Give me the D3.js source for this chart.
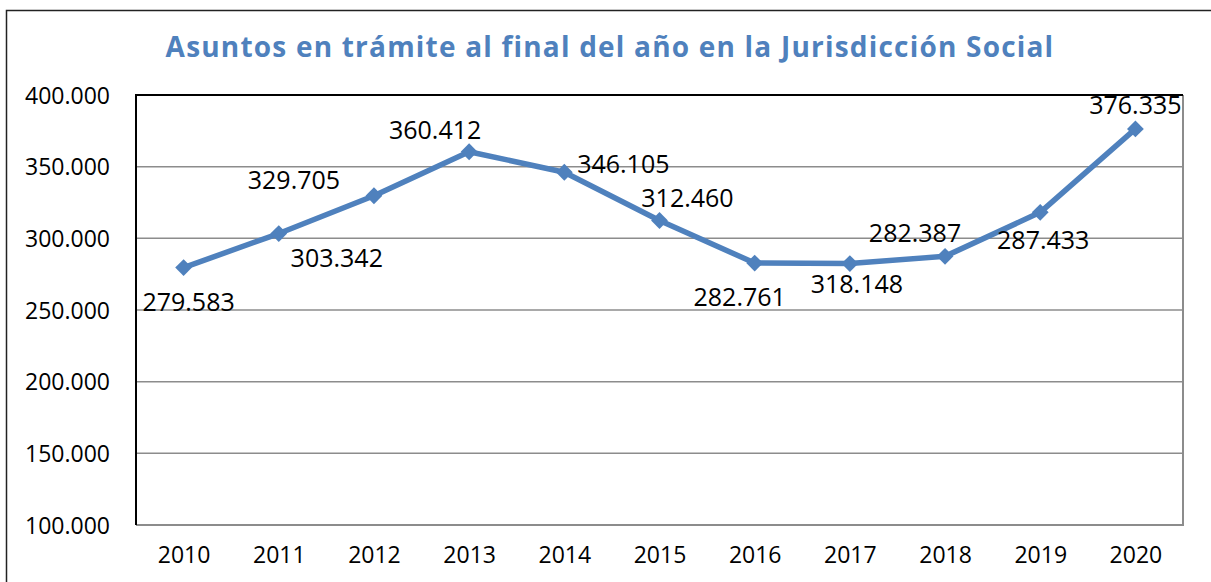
<!DOCTYPE html>
<html>
<head>
<meta charset="utf-8">
<script src="https://cdn.jsdelivr.net/npm/d3@7"></script>
<style>
  body { margin: 0; background: #fff; }
  text { font-family: "Open Sans", sans-serif; }
</style>
</head>
<body>
<div id="chart"></div>
<script>
// data
var years = ["2010", "2011", "2012", "2013", "2014", "2015", "2016", "2017", "2018", "2019", "2020"];
var pending = [279583, 303342, 329705, 360412, 346105, 312460, 282761, 282387, 287433, 318148, 376335];
// labels as printed in the original chart (some are swapped there)
var pointLabels = ["279.583", "303.342", "329.705", "360.412", "346.105", "312.460", "282.761", "318.148", "282.387", "287.433", "376.335"];
var yTicks = [100000, 150000, 200000, 250000, 300000, 350000, 400000];

var titleText = "Asuntos en trámite al final del año en la Jurisdicción Social";

//set chart
var svgWidth = 1211;
var svgHeight = 582;

var margin = { top: 95, right: 28, bottom: 57, left: 136 };
var width = svgWidth - margin.left - margin.right;
var height = svgHeight - margin.top - margin.bottom;

var svg = d3.select("#chart")
  .append("svg")
  .attr("width", svgWidth)
  .attr("height", svgHeight);

// outer frame (left + top)
svg.append("path")
  .attr("d", "M6.5," + svgHeight + "V10.5H" + svgWidth)
  .attr("fill", "none")
  .attr("stroke", "#222")
  .attr("stroke-width", 1.5);

// title
svg.append("text")
  .attr("x", 610)
  .attr("y", 57)
  .attr("text-anchor", "middle")
  .attr("font-size", "28px")
  .attr("font-weight", "bold")
  .attr("letter-spacing", "1.2px")
  .attr("fill", "#4F81BD")
  .text(titleText);

var chartGroup = svg.append("g")
  .attr("transform", `translate(${margin.left}, ${margin.top})`);

//scales
var xScale = d3.scalePoint()
  .domain(years)
  .range([0, width])
  .padding(0.5);

var yScale = d3.scaleLinear()
  .domain([100000, 400000])
  .range([height, 0]);

// gridlines
chartGroup.append("g")
  .selectAll("line")
  .data(yTicks.slice(1, -1))
  .enter()
  .append("line")
  .attr("x1", 0)
  .attr("x2", width)
  .attr("y1", d => yScale(d))
  .attr("y2", d => yScale(d))
  .attr("stroke", "#8c8c8c")
  .attr("stroke-width", 1.5);

// plot frame: right/bottom gray, left/top black
chartGroup.append("path")
  .attr("d", `M${width},0V${height}H0`)
  .attr("fill", "none")
  .attr("stroke", "#8c8c8c")
  .attr("stroke-width", 2);
chartGroup.append("path")
  .attr("d", `M0,${height}V0H${width}`)
  .attr("fill", "none")
  .attr("stroke", "#000")
  .attr("stroke-width", 2);

// axes
var leftAxis = d3.axisLeft(yScale)
  .tickValues(yTicks)
  .tickSize(0)
  .tickPadding(26)
  .tickFormat(d => d3.format(",")(d / 1000) + ".000");

var yAxisG = chartGroup.append("g").call(leftAxis);
yAxisG.select(".domain").remove();
yAxisG.selectAll("text")
  .attr("font-size", "23px")
  .attr("font-family", "Open Sans, sans-serif")
  .attr("fill", "#000")
  .attr("dy", "0.36em");

var bottomAxis = d3.axisBottom(xScale).tickSize(0).tickPadding(22);
var xAxisG = chartGroup.append("g")
  .attr("transform", `translate(0, ${height})`)
  .call(bottomAxis);
xAxisG.select(".domain").remove();
xAxisG.selectAll("text")
  .attr("font-size", "23px")
  .attr("font-family", "Open Sans, sans-serif")
  .attr("fill", "#000");

// line
var line = d3.line()
  .x((d, i) => xScale(years[i]))
  .y(d => yScale(d));

chartGroup.append("path")
  .datum(pending)
  .attr("d", line)
  .attr("fill", "none")
  .attr("stroke", "#4F81BD")
  .attr("stroke-width", 5.5)
  .attr("stroke-linejoin", "round");

// markers
chartGroup.selectAll(".marker")
  .data(pending)
  .enter()
  .append("path")
  .attr("class", "marker")
  .attr("d", d3.symbol().type(d3.symbolDiamond2).size(180))
  .attr("transform", (d, i) => `translate(${xScale(years[i])}, ${yScale(d)})`)
  .attr("fill", "#4F81BD");

// label placement relative to each point (dx, dy of text centre)
var labelOffset = [[5, 34], [58, 24], [-80, -16], [-34, -22], [59, -8], [28, -22], [-15, 34], [7, 20], [-30, -23], [3, 28], [0, -24]];

chartGroup.selectAll(".plabel")
  .data(pending)
  .enter()
  .append("text")
  .attr("class", "plabel")
  .attr("x", (d, i) => xScale(years[i]) + labelOffset[i][0])
  .attr("y", (d, i) => yScale(d) + labelOffset[i][1])
  .attr("dy", "0.36em")
  .attr("text-anchor", "middle")
  .attr("font-size", "25px")
  .attr("fill", "#000")
  .text((d, i) => pointLabels[i]);
</script>
</body>
</html>
